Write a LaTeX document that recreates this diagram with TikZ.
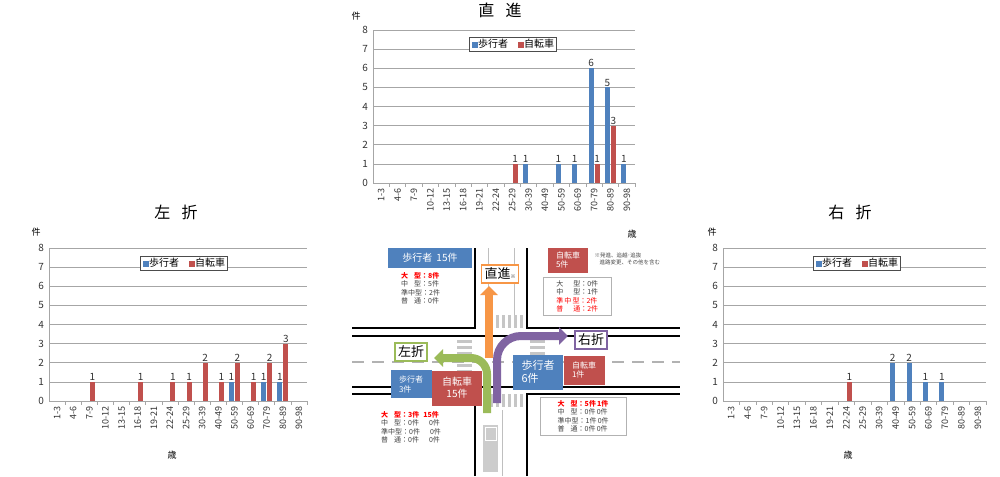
\documentclass[tikz,border=0pt]{standalone}
\usepackage{fontspec}
\setmainfont{Noto Sans CJK JP}
\usetikzlibrary{arrows.meta}
\definecolor{cb}{HTML}{4F81BD}
\definecolor{cr}{HTML}{C0504D}
\definecolor{co}{HTML}{F79646}
\definecolor{cg}{HTML}{9BBB59}
\definecolor{cp}{HTML}{8064A2}
\tikzset{
 gridc/.style={gray!70,line width=0.6pt},
 tick/.style={font=\fontsize{10}{10}\selectfont,text=black!80,inner sep=1pt},
 cat/.style={font=\fontsize{9}{9}\selectfont,rotate=90,anchor=east,inner sep=1pt,text=black!80},
 vlab/.style={font=\fontsize{10}{10}\selectfont,anchor=south,inner sep=1pt,text=black!80},
 title/.style={font=\fontsize{16}{16}\selectfont},
 leg/.style={draw=black!70,fill=white,font=\fontsize{10}{10}\selectfont,inner sep=2.5pt},
 bbox/.style={fill=cb,text=white,font=\fontsize{10}{11}\selectfont,align=left,inner sep=2pt},
 rbox/.style={fill=cr,text=white,font=\fontsize{8}{9}\selectfont,align=left,inner sep=2pt},
 info/.style={fill=white,draw=black!30,font=\fontsize{7}{8.5}\selectfont,align=left,inner sep=3pt,text=black!75},
 dirbox/.style={fill=white,draw=#1,line width=1.2pt,font=\fontsize{13}{13}\selectfont,inner sep=3pt},
 road/.style={line width=1.6pt,black},
}
\newcommand\chartaxes[4]{%
 \pgfmathsetmacro\gxa{#1}\pgfmathsetmacro\gya{#3}\pgfmathsetmacro\gyb{#4}%
 \pgfmathsetmacro\gw{(#2-#1)/16}%
 \foreach \k in {0,...,8}{\draw[gridc] (#1,{#3+(#4-#3)*\k/8}) -- (#2,{#3+(#4-#3)*\k/8});
   \node[tick,anchor=east] at (#1-4,{#3+(#4-#3)*\k/8}) {\k};}
 \draw[gridc] (#1,#3) -- (#1,#4);
 \foreach \lab [count=\i from 0] in {1-3,4-6,7-9,10-12,13-15,16-18,19-21,22-24,25-29,30-39,40-49,50-59,60-69,70-79,80-89,90-98}{
   \draw[gridc] ({#1+(\i+1)*\gw},#3) -- ++(0,4);
   \node[cat] at ({#1+(\i+0.5)*\gw},#3+4) {\lab};}
}
\newcommand\barset[3]{% color, offset, list
 \foreach \i/\v in {#3}{
   \fill[#1] ({\gxa+(\i+0.5)*\gw+#2-2.5},\gya) rectangle ({\gxa+(\i+0.5)*\gw+#2+2.5},{\gya+(\gyb-\gya)*\v/8});
   \node[vlab] at ({\gxa+(\i+0.5)*\gw+#2},{\gya+(\gyb-\gya)*\v/8}) {\v};}
}
\newcommand\legendat[2]{\node[leg] (#1) at (#2) {{\color{cb}\rule{6pt}{6pt}}歩行者\hspace{10pt}{\color{cr}\rule{6pt}{6pt}}自転車};}
\begin{document}
\begin{tikzpicture}[x=1pt,y=-1pt]
\useasboundingbox (0,0) rectangle (1000,476);
\fill[white] (0,0) rectangle (1000,476);
% ---------- top chart
\chartaxes{373}{635}{183}{30}
\barset{cb}{-3}{9/1,11/1,12/1,13/6,14/5,15/1}
\barset{cr}{3}{8/1,13/1,14/3}
\node[title] (t1) at (500,10) {直\hspace{0.7em}進};
\node[font=\small] (u1) at (356,16) {件};
\legendat{l1}{513,44}
\node[font=\small] (a1) at (632,234) {歳};
% ---------- left chart
\chartaxes{49}{307}{401}{248}
\barset{cb}{-3}{11/1,13/1,14/1}
\barset{cr}{3}{2/1,5/1,7/1,8/1,9/2,10/1,11/2,12/1,13/2,14/3}
\node[title] (t2) at (176,212) {左\hspace{0.7em}折};
\node[font=\small] (u2) at (36,232) {件};
\legendat{l2}{184,263}
\node[font=\small] (a2) at (172,455) {歳};
% ---------- right chart
\chartaxes{723}{986}{401}{248}
\barset{cb}{-3}{10/2,11/2,12/1,13/1}
\barset{cr}{3}{7/1}
\node[title] (t3) at (850,212) {右\hspace{0.7em}折};
\node[font=\small] (u3) at (712,232) {件};
\legendat{l3}{857,263}
\node[font=\small] (a3) at (848,455) {歳};
% ---------- intersection
\draw[road] (475,248) -- (475,328) -- (352,328);
\draw[road] (527,248) -- (527,328) -- (680,328);
\draw[road] (352,336) -- (680,336);
\draw[road] (352,387) -- (680,387);
\draw[road] (475,476) -- (475,394) -- (352,394);
\draw[road] (527,476) -- (527,394) -- (680,394);
\draw[gray!60,line width=2pt,dash pattern=on 12pt off 8pt] (352,362) -- (680,362);
\draw[gray!50,line width=1pt] (488,248) -- (488,318) (514,248) -- (514,318) (502,410) -- (502,476);
\foreach \x in {490,496,...,520}{\fill[gray!45] (\x,315) rectangle ++(3,13);\fill[gray!45] (\x,394) rectangle ++(3,13);}
\foreach \y in {340,346,...,382}{\fill[gray!45] (457,\y) rectangle ++(15,3);\fill[gray!45] (530,\y) rectangle ++(15,3);}
% vehicle
\fill[gray!40] (483,425) rectangle (498,472);
\draw[white,line width=1pt] (485,427) rectangle (496,440);
% arrows
\coordinate (ob) at (489,358);
\coordinate (ot) at (489,286);
\draw[co,line width=8pt,-{Triangle[width=17pt,length=9pt]}] (ob) -- (ot);
\coordinate (gb) at (487,413);
\coordinate (ge) at (434,358);
\draw[cg,line width=8pt,-{Triangle[width=17pt,length=9pt]}] (gb) -- (487,374) to[out=90,in=0] (471,358) -- (ge);
\coordinate (pb) at (497,403);
\coordinate (pe) at (568,336);
\draw[cp,line width=8pt,-{Triangle[width=17pt,length=9pt]}] (pb) -- (497,360) to[out=90,in=180] (521,336) -- (pe);
% boxes
\node[bbox,minimum width=84pt,minimum height=20pt,align=center] (p15) at (430,258) {歩行者\hspace{4pt}15件};
\node[info,draw=none,anchor=north west] (i1) at (398,269) {{\color{red}\textbf{大\hspace{6pt}型：8件}}\\中\hspace{6pt}型：5件\\準中型：2件\\普\hspace{6pt}通：0件};
\node[dirbox=co] (st) at (500,274) {直進{\tiny ※}};
\node[rbox,minimum width=40pt,minimum height=25pt] (b5) at (568,260) {自転車\\5件};
\node[font=\fontsize{5.5}{7}\selectfont,align=left,anchor=north west,text=black!70] (nt) at (591,249) {※発進、追越･追抜\\\hspace{5pt}進路変更、その他を含む};
\node[info,anchor=north west,minimum width=68pt] (i2) at (543,277) {大\hspace{10pt}型：0件\\中\hspace{10pt}型：1件\\{\color{red}準\,中\,型：2件}\\{\color{red}普\hspace{10pt}通：2件}};
\node[dirbox=cp] (rt) at (591,340) {右折};
\node[dirbox=cg] (lt) at (411,352) {左折};
\node[bbox,minimum width=41pt,minimum height=28pt,font=\fontsize{8}{10}\selectfont] (p3) at (411,384) {歩行者\\3件};
\node[rbox,minimum width=50pt,minimum height=35pt,font=\fontsize{10}{12}\selectfont,align=center] (b15) at (457,388) {自転車\\15件};
\node[bbox,minimum width=50pt,minimum height=35pt,font=\fontsize{11}{13}\selectfont] (p6) at (538,372) {歩行者\\6件};
\node[rbox,minimum width=41pt,minimum height=29pt] (b1) at (584,370) {自転車\\1件};
\node[info,draw=none,anchor=north west] (i3) at (378,408) {{\color{red}\textbf{大\hspace{6pt}型：3件\hspace{4pt}15件}}\\中\hspace{6pt}型：0件\hspace{10pt}0件\\準中型：0件\hspace{10pt}0件\\普\hspace{6pt}通：0件\hspace{10pt}0件};
\node[info,anchor=north west,minimum width=86pt] (i4) at (540,397) {{\color{red}\textbf{大\hspace{6pt}型：5件\,1件}}\\中\hspace{6pt}型：0件\,0件\\準中型：1件\,0件\\普\hspace{6pt}通：0件\,0件};
\end{tikzpicture}
\end{document}
